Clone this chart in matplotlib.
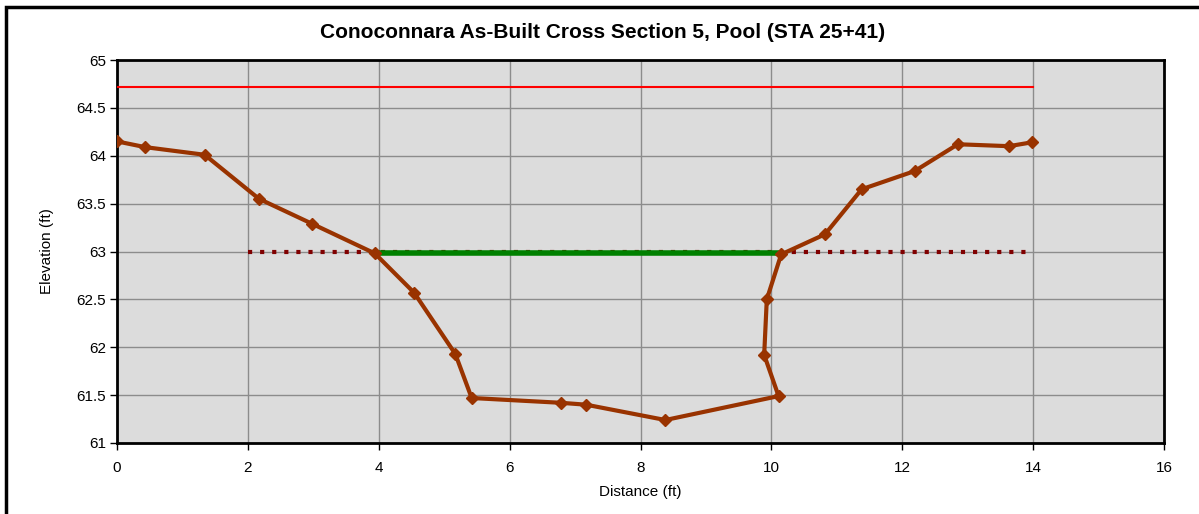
import matplotlib
matplotlib.use("Agg")
import matplotlib.pyplot as plt
from matplotlib.patches import Rectangle

distance = [0.0, 0.43, 1.34, 2.17, 2.98, 3.94, 4.54, 5.17, 5.42, 6.78, 7.17, 8.38,
            10.11, 9.89, 9.93, 10.15, 10.82, 11.38, 12.19, 12.85, 13.63, 13.98]
elevation = [64.15, 64.09, 64.01, 63.55, 63.29, 62.98, 62.57, 61.93, 61.47, 61.42, 61.40, 61.24,
             61.49, 61.92, 62.50, 62.97, 63.18, 63.65, 63.84, 64.12, 64.10, 64.14]

bankfull_x = [0, 14]
bankfull_y = [64.72, 64.72]
water_x = [3.94, 10.15]
water_y = [62.985, 62.985]
floodprone_x = [2, 14]
floodprone_y = [63.0, 63.0]

xticks = [0, 2, 4, 6, 8, 10, 12, 14, 16]
yticks = [61, 61.5, 62, 62.5, 63, 63.5, 64, 64.5, 65]
ytick_labels = ["61", "61.5", "62", "62.5", "63", "63.5", "64", "64.5", "65"]

plt.rcParams['font.family'] = ['Liberation Sans', 'DejaVu Sans']

fig = plt.figure(figsize=(11.99, 5.14), dpi=100)
W, H = 1199, 514
ax = fig.add_axes([117 / W, 1 - 443 / H, (1164 - 117) / W, (443 - 60) / H])
ax.set_facecolor('#DCDCDC')

ax.plot(bankfull_x, bankfull_y, color='#FF0000', lw=1.5, zorder=3)
ax.plot(floodprone_x, floodprone_y, color='#800000', lw=3, linestyle=(0, (1, 1.9)),
        dash_capstyle='butt', zorder=3)
ax.plot(water_x, water_y, color='#008000', lw=4, zorder=4)
ax.plot(distance, elevation, color='#993300', lw=3, marker='D', markersize=6,
        markerfacecolor='#993300', markeredgecolor='#993300', zorder=5)

ax.set_xlim(0, 16)
ax.set_ylim(61, 65)
ax.set_xticks(xticks)
ax.set_yticks(yticks)
ax.set_yticklabels(ytick_labels)
ax.grid(True, color='#8C8C8C', lw=1)
ax.set_axisbelow(True)
ax.tick_params(axis='both', direction='out', length=5, width=1, labelsize=11, colors='black')
ax.tick_params(axis='x', pad=8)
ax.tick_params(axis='y', pad=3)
for s in ax.spines.values():
    s.set_linewidth(2)
    s.set_color('black')

ax.set_xlabel('Distance (ft)', fontsize=11, labelpad=7)
ax.set_ylabel('Elevation (ft)', fontsize=11, labelpad=16)
fig.text(603 / W, 1 - 33 / H, 'Conoconnara As-Built Cross Section 5, Pool (STA 25+41)',
         fontsize=15, fontweight='bold', ha='center', va='center')

fig.patches.append(Rectangle((6 / W, -0.1), 1.2, 1 - 7 / H + 0.1, transform=fig.transFigure,
                             fill=False, edgecolor='black', lw=2.5, zorder=10))

fig.savefig('out.png', dpi=100, facecolor='white')
